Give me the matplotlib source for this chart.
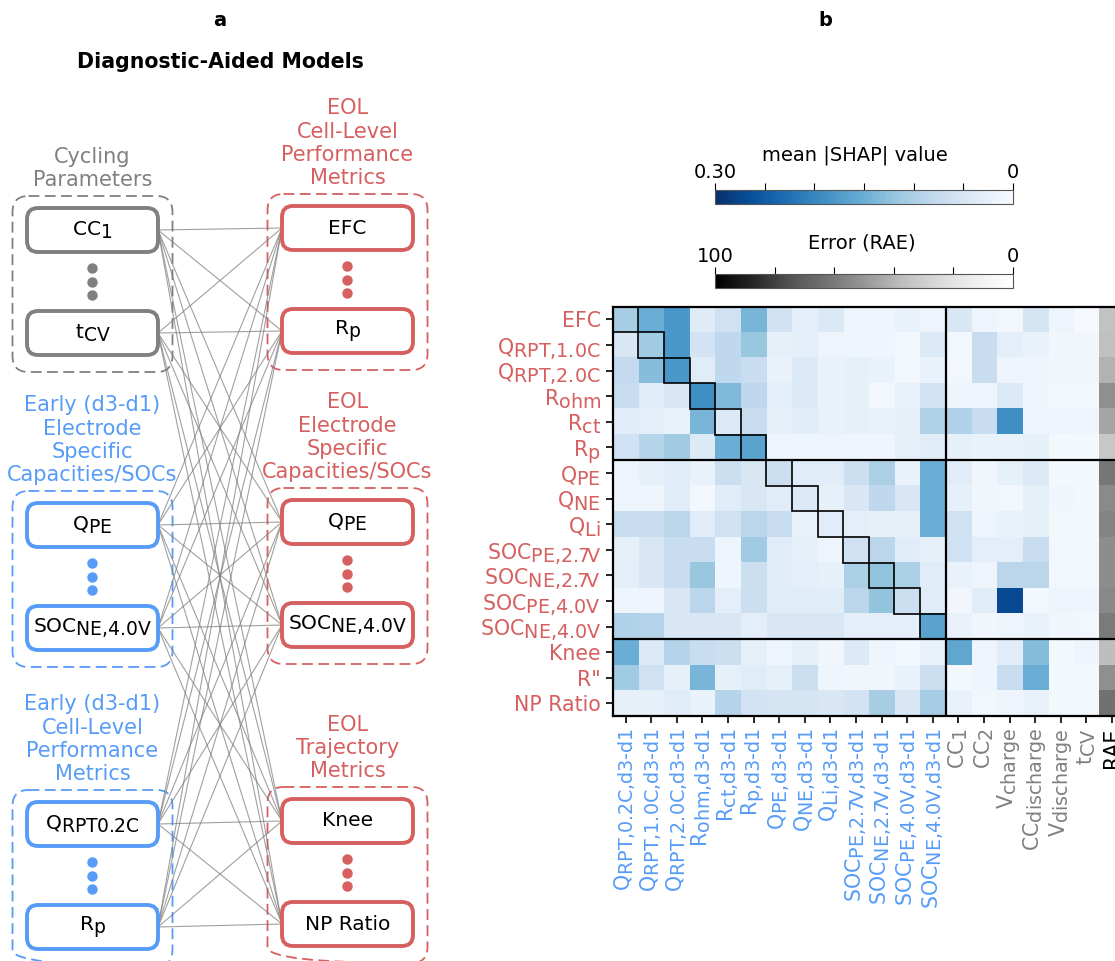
import numpy as np
import matplotlib.pyplot as plt
import matplotlib._mathtext as mathtext_internals
from matplotlib.patches import FancyBboxPatch, Rectangle
from matplotlib import cm, colors

# subscripts in the original are nearly full size
mathtext_internals.SHRINK_FACTOR = 0.93

RED = '#d65f5f'
BLUE = '#569cf7'
GRAY = '#808080'

# ---------------- panel a data ----------------
left_titles = ['Cycling\nParameters',
               'Early (d3-d1)\nElectrode\nSpecific\nCapacities/SOCs',
               'Early (d3-d1)\nCell-Level\nPerformance\nMetrics']
left_colors = [GRAY, BLUE, BLUE]
left_nodes = [['CC$_1$', 't$_\\mathrm{CV}$'],
              ['Q$_\\mathrm{PE}$', 'SOC$_\\mathrm{NE{,}4.0V}$'],
              ['Q$_\\mathrm{RPT0.2C}$', 'R$_\\mathrm{p}$']]

right_titles = ['EOL\nCell-Level\nPerformance\nMetrics',
                'EOL\nElectrode\nSpecific\nCapacities/SOCs',
                'EOL\nTrajectory\nMetrics']
right_colors = [RED, RED, RED]
right_nodes = [['EFC', 'R$_\\mathrm{p}$'],
               ['Q$_\\mathrm{PE}$', 'SOC$_\\mathrm{NE{,}4.0V}$'],
               ['Knee', 'NP Ratio']]

# ---------------- panel b data ----------------
row_labels = ['EFC', 'Q$_\\mathrm{RPT{,}1.0C}$', 'Q$_\\mathrm{RPT{,}2.0C}$', 'R$_\\mathrm{ohm}$',
              'R$_\\mathrm{ct}$', 'R$_\\mathrm{p}$', 'Q$_\\mathrm{PE}$', 'Q$_\\mathrm{NE}$',
              'Q$_\\mathrm{Li}$', 'SOC$_\\mathrm{PE{,}2.7V}$', 'SOC$_\\mathrm{NE{,}2.7V}$',
              'SOC$_\\mathrm{PE{,}4.0V}$', 'SOC$_\\mathrm{NE{,}4.0V}$', 'Knee', 'R"', 'NP Ratio']
H = '\u2010'
early_cols = ['Q$_\\mathrm{RPT{,}0.2C{,}d3%sd1}$' % H, 'Q$_\\mathrm{RPT{,}1.0C{,}d3%sd1}$' % H,
              'Q$_\\mathrm{RPT{,}2.0C{,}d3%sd1}$' % H, 'R$_\\mathrm{ohm{,}d3%sd1}$' % H,
              'R$_\\mathrm{ct{,}d3%sd1}$' % H, 'R$_\\mathrm{p{,}d3%sd1}$' % H,
              'Q$_\\mathrm{PE{,}d3%sd1}$' % H, 'Q$_\\mathrm{NE{,}d3%sd1}$' % H,
              'Q$_\\mathrm{Li{,}d3%sd1}$' % H, 'SOC$_\\mathrm{PE{,}2.7V{,}d3%sd1}$' % H,
              'SOC$_\\mathrm{NE{,}2.7V{,}d3%sd1}$' % H, 'SOC$_\\mathrm{PE{,}4.0V{,}d3%sd1}$' % H,
              'SOC$_\\mathrm{NE{,}4.0V{,}d3%sd1}$' % H]
cycling_cols = ['CC$_1$', 'CC$_2$', 'V$_\\mathrm{charge}$', 'CC$_\\mathrm{discharge}$',
                'V$_\\mathrm{discharge}$', 't$_\\mathrm{CV}$']

shap = np.array([
    [0.105, 0.15, 0.18, 0.036, 0.06, 0.14, 0.057, 0.03, 0.042, 0.015, 0.012, 0.02, 0.015, 0.045, 0.015, 0.008, 0.05, 0.015, 0.003],
    [0.045, 0.11, 0.18, 0.055, 0.08, 0.115, 0.025, 0.03, 0.015, 0.012, 0.012, 0.008, 0.04, 0.008, 0.07, 0.03, 0.02, 0.01, 0.01],
    [0.075, 0.13, 0.18, 0.035, 0.08, 0.07, 0.02, 0.04, 0.02, 0.025, 0.02, 0.008, 0.02, 0.008, 0.07, 0.015, 0.012, 0.01, 0.01],
    [0.07, 0.035, 0.045, 0.19, 0.135, 0.08, 0.03, 0.04, 0.02, 0.025, 0.008, 0.02, 0.055, 0.015, 0.015, 0.04, 0.012, 0.005, 0.005],
    [0.035, 0.03, 0.02, 0.14, 0.04, 0.07, 0.025, 0.035, 0.02, 0.025, 0.02, 0.025, 0.095, 0.095, 0.07, 0.19, 0.012, 0.015, 0.012],
    [0.06, 0.09, 0.11, 0.04, 0.15, 0.165, 0.015, 0.015, 0.015, 0.012, 0.012, 0.025, 0.035, 0.025, 0.02, 0.02, 0.025, 0.005, 0.005],
    [0.015, 0.025, 0.035, 0.02, 0.065, 0.045, 0.065, 0.035, 0.035, 0.065, 0.1, 0.02, 0.15, 0.035, 0.01, 0.025, 0.04, 0.005, 0.008],
    [0.015, 0.015, 0.035, 0.008, 0.035, 0.045, 0.035, 0.04, 0.025, 0.045, 0.08, 0.045, 0.15, 0.025, 0.01, 0.008, 0.025, 0.01, 0.005],
    [0.07, 0.07, 0.085, 0.035, 0.06, 0.085, 0.07, 0.02, 0.035, 0.03, 0.025, 0.025, 0.15, 0.06, 0.015, 0.02, 0.025, 0.005, 0.005],
    [0.025, 0.045, 0.07, 0.07, 0.015, 0.11, 0.035, 0.025, 0.015, 0.06, 0.085, 0.035, 0.025, 0.06, 0.03, 0.03, 0.07, 0.008, 0.008],
    [0.03, 0.045, 0.07, 0.115, 0.012, 0.065, 0.035, 0.03, 0.025, 0.1, 0.12, 0.1, 0.035, 0.02, 0.015, 0.085, 0.085, 0.008, 0.008],
    [0.015, 0.015, 0.045, 0.085, 0.03, 0.065, 0.035, 0.035, 0.035, 0.085, 0.12, 0.065, 0.035, 0.01, 0.035, 0.27, 0.008, 0.015, 0.012],
    [0.095, 0.09, 0.045, 0.045, 0.045, 0.03, 0.045, 0.045, 0.045, 0.03, 0.03, 0.03, 0.165, 0.02, 0.01, 0.015, 0.02, 0.01, 0.008],
    [0.15, 0.04, 0.09, 0.07, 0.065, 0.025, 0.012, 0.025, 0.01, 0.04, 0.015, 0.008, 0.02, 0.16, 0.012, 0.035, 0.13, 0.005, 0.012],
    [0.11, 0.06, 0.025, 0.14, 0.025, 0.035, 0.025, 0.065, 0.012, 0.01, 0.01, 0.02, 0.065, 0.005, 0.012, 0.07, 0.15, 0.005, 0.005],
    [0.025, 0.025, 0.035, 0.02, 0.09, 0.055, 0.05, 0.05, 0.045, 0.055, 0.105, 0.045, 0.105, 0.02, 0.008, 0.015, 0.02, 0.005, 0.005],
])
rae = [35, 36, 41, 52, 45, 33, 61, 54, 56, 53, 53, 55, 60, 37, 52, 63]

W, Hpx = 1115, 961
fig = plt.figure(figsize=(W / 100, Hpx / 100), dpi=100)

# ---------------- panel a ----------------
ax = fig.add_axes([0, 0, 440 / W, 1])
ax.set_xlim(0, 440)
ax.set_ylim(Hpx, 0)
ax.axis('off')

box_w, box_h, gap = 131, 44, 103
left_x, right_x = 92.5, 347.5
left_y0 = [230, 525, 824]
right_y0 = [228, 522, 821]


def draw_group(xc, y0, title, col, nodes):
    # outer dashed frame
    top = y0 - box_h / 2 - 12
    bot = y0 + gap + box_h / 2 + 17
    ax.add_patch(FancyBboxPatch((xc - 80, top), 160, bot - top,
                                boxstyle='round,pad=0,rounding_size=16',
                                fill=False, ec=col, lw=1.3, ls=(0, (6, 3))))
    ax.text(xc, top - 6, title, ha='center', va='bottom', color=col,
            fontsize=15, linespacing=1.2, multialignment='center')
    centers = []
    for i, n in enumerate(nodes):
        yc = y0 + i * gap
        ax.add_patch(FancyBboxPatch((xc - box_w / 2, yc - box_h / 2), box_w, box_h,
                                    boxstyle='round,pad=0,rounding_size=11',
                                    fill=True, fc='white', ec=col, lw=2.8, zorder=3))
        ax.text(xc, yc, n, ha='center', va='center', fontsize=14.5, zorder=4)
        centers.append(yc)
    ax.plot([xc] * 3, [y0 + 38, y0 + 52, y0 + 65], 'o', color=col, ms=6.5, zorder=4)
    return centers


lefts, rights = [], []
for t, c, n, y0 in zip(left_titles, left_colors, left_nodes, left_y0):
    lefts += draw_group(left_x, y0, t, c, n)
for t, c, n, y0 in zip(right_titles, right_colors, right_nodes, right_y0):
    rights += draw_group(right_x, y0, t, c, n)

for yl in lefts:
    for yr in rights:
        ax.plot([left_x + box_w / 2, right_x - box_w / 2], [yl, yr],
                color='gray', lw=0.8, alpha=0.75, zorder=1)

fig.text(220 / W, 1 - 20 / Hpx, 'a', ha='center', va='center', fontsize=14, fontweight='bold')
fig.text(220 / W, 1 - 62 / Hpx, 'Diagnostic-Aided Models', ha='center', va='center',
         fontsize=14.8, fontweight='bold')
fig.text(825 / W, 1 - 20 / Hpx, 'b', ha='center', va='center', fontsize=14, fontweight='bold')

# ---------------- panel b ----------------
nrow, ncol = shap.shape
cell = 25.6
x0, ytop = 612.7, 306.7
hx = fig.add_axes([x0 / W, 1 - (ytop + nrow * cell) / Hpx,
                   (ncol + 1) * cell / W, nrow * cell / Hpx])
hx.imshow(shap, cmap='Blues', vmin=0, vmax=0.30, aspect='auto',
          extent=(-0.5, ncol - 0.5, nrow - 0.5, -0.5), interpolation='nearest')
hx.imshow(np.array(rae, dtype=float)[:, None], cmap='Greys', vmin=0, vmax=100, aspect='auto',
          extent=(ncol - 0.5, ncol + 0.5, nrow - 0.5, -0.5), interpolation='nearest')
hx.set_xlim(-0.5, ncol + 0.5)
hx.set_ylim(nrow - 0.5, -0.5)

n_early = len(early_cols)
for k in range(n_early):
    hx.add_patch(Rectangle((k - 0.5, k - 0.5), 1, 1, fill=False, ec='black', lw=1.2, zorder=3))
hx.axvline(n_early - 0.5, color='black', lw=1.6, zorder=4)
hx.axhline(5.5, color='black', lw=1.6, zorder=4)
hx.axhline(12.5, color='black', lw=1.6, zorder=4)

hx.set_yticks(range(nrow))
hx.set_yticklabels(row_labels, fontsize=14.8, color=RED)
xlabels = early_cols + cycling_cols + ['RAE']
hx.set_xticks(range(ncol + 1))
hx.set_xticklabels(xlabels, rotation=90, fontsize=14.8)
xcolors = [BLUE] * n_early + [GRAY] * len(cycling_cols) + ['black']
for lab, c in zip(hx.get_xticklabels(), xcolors):
    lab.set_color(c)
hx.tick_params(length=5, width=1.2)
for s in hx.spines.values():
    s.set_linewidth(1.6)

# colorbars
c1 = fig.add_axes([715 / W, 1 - 204 / Hpx, 298 / W, 14 / Hpx])
cb1 = fig.colorbar(cm.ScalarMappable(norm=colors.Normalize(0, 0.30), cmap='Blues'),
                   cax=c1, orientation='horizontal')
c1.invert_xaxis()
c1.xaxis.set_ticks_position('top')
cb1.set_ticks(np.linspace(0, 0.30, 7))
cb1.set_ticklabels(['0', '', '', '', '', '', '0.30'])
c1.tick_params(labelsize=14, length=5, pad=1)
cb1.outline.set_edgecolor('#555555')
fig.text(855 / W, 1 - 155 / Hpx, 'mean |SHAP| value', ha='center', va='center', fontsize=14)

c2 = fig.add_axes([715 / W, 1 - 288 / Hpx, 298 / W, 14 / Hpx])
cb2 = fig.colorbar(cm.ScalarMappable(norm=colors.Normalize(0, 100), cmap='Greys'),
                   cax=c2, orientation='horizontal')
c2.invert_xaxis()
c2.xaxis.set_ticks_position('top')
cb2.set_ticks(np.linspace(0, 100, 6))
cb2.set_ticklabels(['0', '', '', '', '', '100'])
c2.tick_params(labelsize=14, length=5, pad=1)
cb2.outline.set_edgecolor('#555555')
fig.text(862 / W, 1 - 243 / Hpx, 'Error (RAE)', ha='center', va='center', fontsize=14)

fig.savefig('out.png', dpi=100)
